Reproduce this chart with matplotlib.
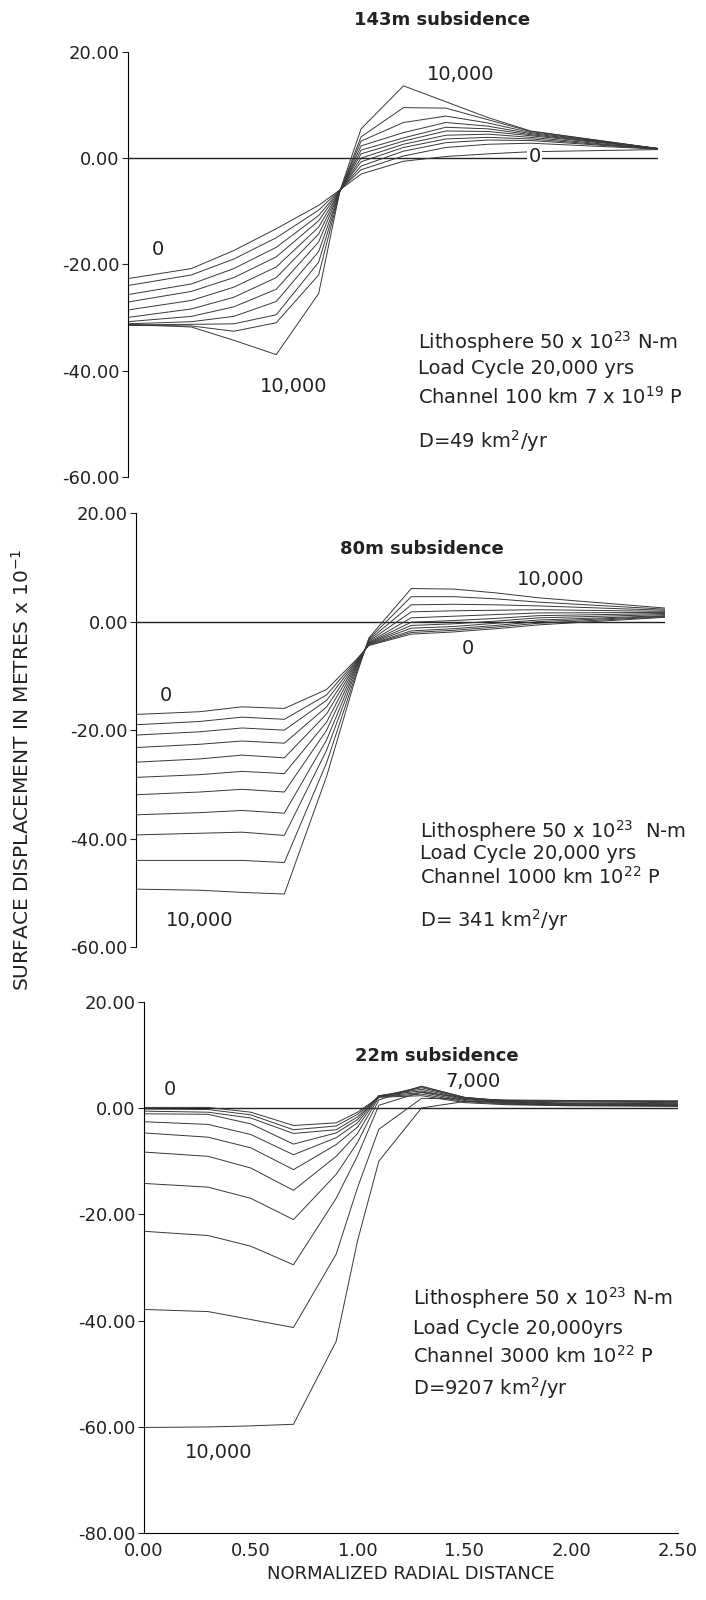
import matplotlib.pyplot as plt

plt.rcParams['font.family'] = 'DejaVu Sans'
plt.rcParams['axes.unicode_minus'] = False
plt.rcParams['mathtext.fontset'] = 'dejavusans'

# radial nodes (normalized distance) and displacement profiles, one row per 1000 yrs
x_143 = [0, 0.3, 0.5, 0.7, 0.9, 1.0, 1.1, 1.3, 1.5, 1.7, 1.9, 2.5]
y_143 = [
    [-22.7, -20.8, -17.4, -13.3, -8.9, -6.0, -3.0, -0.6, 0.3, 0.8, 1.2, 1.6],
    [-24.0, -22.0, -19.0, -15.0, -9.8, -6.0, -2.2, 0.4, 2.0, 2.6, 2.8, 1.7],
    [-25.7, -23.7, -20.8, -16.8, -10.8, -6.1, -1.5, 1.3, 2.9, 3.4, 3.3, 1.7],
    [-27.1, -25.1, -22.5, -18.6, -11.8, -6.1, -0.7, 2.0, 3.6, 3.9, 3.6, 1.7],
    [-28.6, -26.8, -24.3, -20.5, -13.0, -6.2, 0.0, 2.6, 4.3, 4.5, 3.9, 1.7],
    [-30.0, -28.4, -26.2, -22.5, -14.3, -6.2, 0.8, 3.2, 5.1, 5.0, 4.2, 1.8],
    [-30.8, -29.8, -28.0, -24.7, -15.8, -6.2, 1.5, 3.8, 5.8, 5.5, 4.4, 1.8],
    [-31.2, -30.8, -29.8, -27.0, -17.6, -6.3, 2.3, 4.8, 6.7, 6.0, 4.6, 1.8],
    [-31.4, -31.3, -31.2, -29.5, -19.6, -6.3, 3.2, 6.7, 7.9, 6.6, 4.8, 1.8],
    [-31.5, -31.6, -32.6, -31.0, -22.0, -6.3, 4.0, 9.5, 9.4, 7.2, 5.0, 1.8],
    [-31.3, -31.8, -34.3, -37.0, -25.5, -6.2, 5.5, 13.6, 10.6, 7.6, 5.1, 1.8],
]

x_80 = [0, 0.3, 0.5, 0.7, 0.9, 1.04, 1.1, 1.3, 1.5, 1.7, 1.9, 2.5]
y_80 = [
    [-17.1, -16.6, -15.7, -16.0, -12.5, -7.0, -4.4, -2.3, -1.9, -1.3, -0.6, 0.8],
    [-19.0, -18.4, -17.6, -18.0, -13.5, -7.2, -4.3, -2.0, -1.6, -1.0, -0.3, 0.9],
    [-20.9, -20.3, -19.6, -20.0, -14.5, -7.4, -4.2, -1.7, -1.3, -0.7, 0.0, 1.0],
    [-23.2, -22.6, -22.0, -22.4, -15.7, -7.6, -4.1, -1.2, -0.9, -0.3, 0.3, 1.1],
    [-25.9, -25.3, -24.6, -25.1, -17.0, -7.8, -4.0, -0.7, -0.4, 0.1, 0.7, 1.3],
    [-28.7, -28.2, -27.6, -28.0, -18.5, -8.0, -3.9, -0.1, 0.2, 0.6, 1.1, 1.5],
    [-31.9, -31.4, -30.9, -31.4, -20.0, -8.3, -3.8, 0.7, 1.0, 1.3, 1.6, 1.7],
    [-35.6, -35.2, -34.8, -35.3, -21.8, -8.6, -3.6, 1.8, 2.0, 2.1, 2.2, 1.9],
    [-39.3, -39.0, -38.8, -39.4, -23.7, -9.0, -3.4, 3.1, 3.2, 3.1, 2.9, 2.1],
    [-44.0, -44.0, -44.0, -44.4, -26.0, -9.5, -3.2, 4.6, 4.6, 4.2, 3.6, 2.3],
    [-49.3, -49.5, -49.9, -50.2, -28.5, -10.0, -3.0, 6.1, 6.0, 5.3, 4.4, 2.5],
]

x_22 = [0, 0.3, 0.5, 0.7, 0.9, 1.0, 1.1, 1.3, 1.5, 1.7, 2.0, 2.5]
y_22 = [
    [0.1, 0.1, -0.8, -3.3, -2.8, -0.8, 2.0, 2.3, 1.0, 0.6, 0.4, 0.3],
    [-0.2, -0.3, -1.3, -4.1, -3.4, -1.2, 2.1, 2.6, 1.2, 0.7, 0.5, 0.4],
    [-0.6, -0.8, -1.9, -4.8, -4.1, -1.7, 2.2, 2.9, 1.4, 0.8, 0.5, 0.4],
    [-1.1, -1.2, -3.0, -6.8, -4.7, -2.2, 2.3, 3.2, 1.6, 0.9, 0.6, 0.5],
    [-2.6, -3.1, -5.0, -8.8, -5.6, -2.8, 2.3, 3.5, 1.8, 1.0, 0.7, 0.6],
    [-4.7, -5.5, -7.5, -11.6, -6.9, -3.6, 2.2, 3.8, 1.9, 1.1, 0.8, 0.7],
    [-8.3, -9.1, -11.3, -15.5, -9.1, -4.8, 2.0, 4.0, 2.0, 1.2, 0.9, 0.8],
    [-14.2, -14.9, -17.0, -21.0, -12.5, -6.5, 1.5, 4.1, 2.0, 1.3, 1.1, 1.0],
    [-23.2, -24.0, -26.0, -29.5, -17.0, -9.0, 0.5, 3.0, 1.9, 1.4, 1.3, 1.2],
    [-37.9, -38.3, -39.8, -41.3, -27.5, -15.0, -4.0, 1.8, 1.7, 1.5, 1.4, 1.3],
    [-60.1, -60.0, -59.8, -59.5, -43.9, -25.0, -10.0, 0.0, 1.2, 1.3, 1.3, 1.3],
]

x_ticks = [0.0, 0.5, 1.0, 1.5, 2.0, 2.5]

fig = plt.figure(figsize=(7.06, 16), dpi=100)

ax1 = fig.add_axes([0.181, 0.702, 0.751, 0.2656])
ax2 = fig.add_axes([0.193, 0.408, 0.749, 0.2713])
ax3 = fig.add_axes([0.204, 0.0417, 0.756, 0.3323])


def setup(ax, ymin, show_x):
    ax.set_xlim(0, 2.5)
    ax.set_ylim(ymin, 20)
    ax.spines['top'].set_visible(False)
    ax.spines['right'].set_visible(False)
    ax.spines['bottom'].set_visible(show_x)
    ax.spines['left'].set_linewidth(0.8)
    ax.spines['bottom'].set_linewidth(0.8)
    yt = list(range(ymin, 21, 20))
    ax.set_yticks(yt)
    ax.set_yticklabels(['%.2f' % v for v in yt])
    ax.tick_params(axis='y', direction='out', length=4, width=0.8,
                   labelsize=13, pad=2, colors='#222')
    if show_x:
        ax.set_xticks(x_ticks)
        ax.set_xticklabels(['%.2f' % v for v in x_ticks])
        ax.tick_params(axis='x', length=0, labelsize=13, pad=6, colors='#222')
    else:
        ax.set_xticks([])
    ax.axhline(0, color='#222', lw=1.0, zorder=1)


def draw(ax, xs, rows):
    for row in rows:
        ax.plot(xs, row, color='#383838', lw=0.7, zorder=2)


setup(ax1, -60, False)
setup(ax2, -60, False)
setup(ax3, -80, True)
draw(ax1, x_143, y_143)
draw(ax2, x_80, y_80)
draw(ax3, x_22, y_22)

ttl = dict(fontsize=13, color='#222', fontweight='bold', ha='center', va='center')
lab = dict(fontsize=14, color='#222', ha='center', va='center')
blk = dict(fontsize=14, color='#222', va='center')
wb = dict(facecolor='white', edgecolor='none', pad=1)

# 143 m panel
ax1.text(1.48, 26.0, '143m subsidence', clip_on=False, **ttl)
ax1.text(1.57, 15.8, '10,000', **lab)
ax1.text(1.92, 0.3, '0', bbox=wb, **lab)
ax1.text(0.14, -17.2, '0', **lab)
ax1.text(0.78, -43.0, '10,000', **lab)
ax1.text(1.37, -34.6, 'Lithosphere 50 x 10$^{23}$ N-m', **blk)
ax1.text(1.37, -39.6, 'Load Cycle 20,000 yrs', **blk)
ax1.text(1.37, -44.9, 'Channel 100 km 7 x 10$^{19}$ P', **blk)
ax1.text(1.37, -53.3, 'D=49 km$^2$/yr', **blk)

# 80 m panel
ax2.text(1.35, 13.3, '80m subsidence', **ttl)
ax2.text(1.96, 7.8, '10,000', **lab)
ax2.text(1.57, -4.9, '0', **lab)
ax2.text(0.14, -13.7, '0', **lab)
ax2.text(0.30, -55.0, '10,000', **lab)
ax2.text(1.34, -38.6, 'Lithosphere 50 x 10$^{23}$  N-m', **blk)
ax2.text(1.34, -42.8, 'Load Cycle 20,000 yrs', **blk)
ax2.text(1.34, -47.0, 'Channel 1000 km 10$^{22}$ P', **blk)
ax2.text(1.34, -55.0, 'D= 341 km$^2$/yr', **blk)

# 22 m panel
ax3.text(1.37, 9.8, '22m subsidence', **ttl)
ax3.text(1.54, 5.0, '7,000', **lab)
ax3.text(0.12, 3.5, '0', **lab)
ax3.text(0.35, -64.9, '10,000', **lab)
ax3.text(1.26, -35.7, 'Lithosphere 50 x 10$^{23}$ N-m', **blk)
ax3.text(1.26, -41.4, 'Load Cycle 20,000yrs', **blk)
ax3.text(1.26, -46.7, 'Channel 3000 km 10$^{22}$ P', **blk)
ax3.text(1.26, -52.6, 'D=9207 km$^2$/yr', **blk)

ax3.set_xlabel('NORMALIZED RADIAL DISTANCE', fontsize=13, color='#222', labelpad=4)
fig.text(0.031, 0.519, 'SURFACE DISPLACEMENT IN METRES x 10$^{-1}$', rotation=90,
         ha='center', va='center', fontsize=14.5, color='#222')

fig.savefig('out.png', dpi=100, facecolor='white')
